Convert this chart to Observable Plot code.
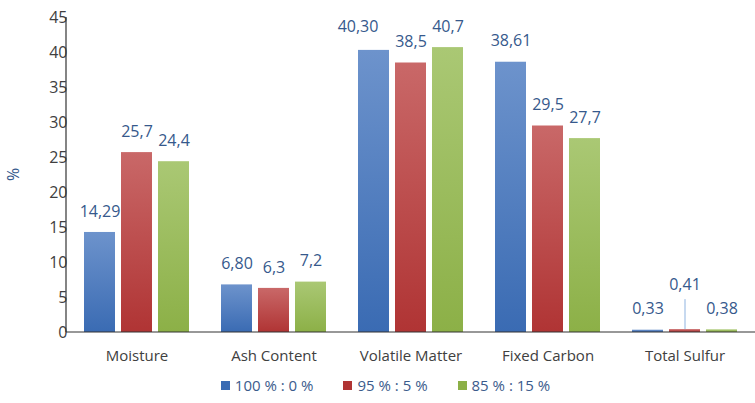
<!DOCTYPE html>
<html>
<head>
<meta charset="utf-8">
<script src="https://cdn.jsdelivr.net/npm/d3@7"></script>
<script src="https://cdn.jsdelivr.net/npm/@observablehq/plot@0.6"></script>
<style>
  html, body { margin: 0; padding: 0; background: #fff; }
  body { width: 755px; height: 403px; overflow: hidden; font-family: "Open Sans", sans-serif; }
  #legend { display: flex; justify-content: center; gap: 30px; padding-left: 16px; margin-top: 5px;
            font-size: 15px; color: #3b5b8c; }
  #legend .item { display: flex; align-items: center; gap: 5px; }
  #legend .swatch { width: 9px; height: 9px; display: inline-block; }
</style>
</head>
<body>
<div id="chart"></div>
<script>
// Proximate analysis of the three blends (%)
const categories = ["Moisture", "Ash Content", "Volatile Matter", "Fixed Carbon", "Total Sulfur"];
const series = ["100 % : 0 %", "95 % : 5 %", "85 % : 15 %"];
const blend100 = [14.29, 6.80, 40.30, 38.61, 0.33];
const blend95 = [25.7, 6.3, 38.5, 29.5, 0.41];
const blend85 = [24.4, 7.2, 40.7, 27.7, 0.38];
const yTicks = [0, 5, 10, 15, 20, 25, 30, 35, 40, 45];

// Gradient stops for each series (top colour, bottom colour)
const gradients = [
  ["g100", "#6d93cc", "#3a6bb3"],
  ["g95", "#c96868", "#b03434"],
  ["g85", "#aac874", "#8cb047"]
];

const rows = [];
[blend100, blend95, blend85].forEach((vals, s) => {
  vals.forEach((v, c) => rows.push({category: categories[c], series: series[s], value: v, s}));
});

// Blue values and sulfur carry two decimals, the rest one; comma as decimal separator
const fmt = d => d.value.toFixed(d.s === 0 || d.category === "Total Sulfur" ? 2 : 1).replace(".", ",");

// Labels that are nudged away from their neighbours
const isVolatileBlue = d => d.category === "Volatile Matter" && d.s === 0;
const isSulfurRed = d => d.category === "Total Sulfur" && d.s === 1;
const plainLabels = rows.filter(d => !isVolatileBlue(d) && !isSulfurRed(d));

const labelColor = "#36598c";
const textColor = "#404040";
const labelFont = 16;

const defs = () => {
  const el = d3.create("svg:defs");
  for (const [id, top, bottom] of gradients) {
    const g = el.append("linearGradient").attr("id", id).attr("x1", 0).attr("y1", 0).attr("x2", 0).attr("y2", 1);
    g.append("stop").attr("offset", "0%").attr("stop-color", top);
    g.append("stop").attr("offset", "100%").attr("stop-color", bottom);
  }
  return el.node();
};

const labelOpts = {fx: "category", x: "series", y: "value", text: fmt, fill: labelColor, fontSize: labelFont};

const plot = Plot.plot({
  width: 755,
  height: 370,
  marginLeft: 66,
  marginRight: 1,
  marginTop: 17,
  marginBottom: 38,
  style: {fontFamily: "Open Sans, sans-serif", background: "#fff"},
  fx: {domain: categories, paddingInner: 0.22, paddingOuter: 0.11, label: null},
  x: {domain: series, paddingInner: 0.17, paddingOuter: 0, axis: null},
  y: {domain: [0, 45], label: null},
  color: {domain: series, range: gradients.map(g => `url(#${g[0]})`)},
  marks: [
    defs,
    Plot.axisFx({anchor: "bottom", tickSize: 0, tickPadding: 18, fontSize: 15, color: textColor, label: null}),
    Plot.axisY({ticks: yTicks, tickSize: 0, tickPadding: 16, fontSize: 16, color: textColor, label: null}),
    Plot.barY(rows, {fx: "category", x: "series", y: "value", fill: "series"}),
    // leader line for the displaced sulfur label
    Plot.ruleX(rows.filter(isSulfurRed),
      {fx: "category", x: "series", y1: "value", y2: "value", insetTop: -30, stroke: "#8fb3e0", strokeWidth: 1}),
    Plot.text(plainLabels, {...labelOpts, dy: -21}),
    Plot.text(rows.filter(isVolatileBlue), {...labelOpts, dx: -16, dy: -24}),
    Plot.text(rows.filter(isSulfurRed), {...labelOpts, dy: -45})
  ]
});

// Axis lines and the y label span the whole frame, so they are added once after faceting
const y = plot.scale("y");
const svg = d3.select(plot);
const y0 = y.apply(0), yTop = y.apply(45);
svg.append("line").attr("x1", 66).attr("x2", 66).attr("y1", yTop).attr("y2", y0)
  .attr("stroke", "#333").attr("stroke-width", 1.2);
svg.append("line").attr("x1", 66).attr("x2", 755).attr("y1", y0).attr("y2", y0)
  .attr("stroke", "#333").attr("stroke-width", 1.2);
svg.append("text").attr("transform", `translate(14,${(y0 + yTop) / 2}) rotate(-90)`)
  .attr("text-anchor", "middle").attr("dy", "0.32em")
  .attr("fill", labelColor).attr("font-size", 16).text("%");

document.getElementById("chart").append(plot);

// Legend below the chart
const legend = d3.select("body").append("div").attr("id", "legend");
series.forEach((name, i) => {
  const item = legend.append("div").attr("class", "item");
  item.append("span").attr("class", "swatch").style("background", gradients[i][2]);
  item.append("span").text(name);
});
</script>
</body>
</html>
